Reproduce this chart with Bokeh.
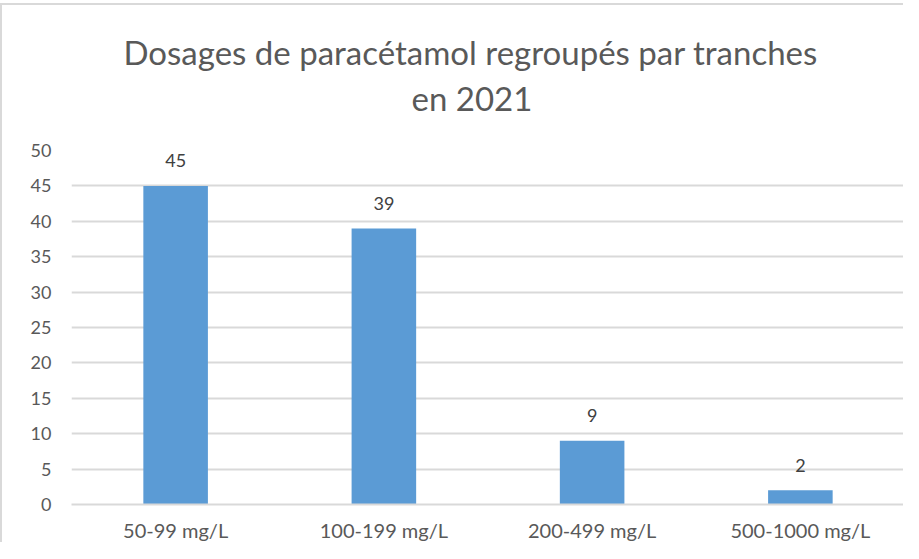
from bokeh.plotting import figure
from bokeh.models import ColumnDataSource, Title, FixedTicker, Range1d
from bokeh.core.properties import value
from bokeh.embed import file_html
from bokeh.resources import INLINE

categories = ["50-99 mg/L", "100-199 mg/L", "200-499 mg/L", "500-1000 mg/L"]
counts = [45, 39, 9, 2]
y_ticks = [0, 5, 10, 15, 20, 25, 30, 35, 40, 45, 50]
title_line1 = "Dosages de paracétamol regroupés par tranches"
title_line2 = "en 2021"

FONT = "Lato"
GREY = "#595959"
GRID = "#d9d9d9"

src = ColumnDataSource(dict(cat=categories, val=counts, lbl=[str(v) for v in counts]))

p = figure(x_range=categories, y_range=Range1d(0, 50), width=901, height=537,
           output_backend="svg", toolbar_location=None,
           min_border_left=69, min_border_right=1, min_border_bottom=34, min_border_top=145)
p.styles = {"border-left": "2px solid #d9d9d9", "border-top": "2px solid #d9d9d9",
            "margin-top": "3px", "box-sizing": "content-box"}

p.add_layout(Title(text=title_line2, align="left", offset=340, text_font=FONT, text_font_size="33px",
                   text_color=GREY, text_font_style="normal", standoff=66), "above")
p.add_layout(Title(text=title_line1, align="left", offset=52, text_font=FONT, text_font_size="33px",
                   text_color=GREY, text_font_style="normal", standoff=-58), "above")

p.vbar(x="cat", top="val", width=0.31, source=src, fill_color="#5B9BD5", line_color=None)
p.text(x="cat", y="val", text="lbl", source=src, text_align="center", text_baseline="alphabetic",
       y_offset=-25, text_font=value(FONT), text_font_size="18px", text_color="#404040")

p.x_range.range_padding = 0
p.outline_line_color = None
p.background_fill_color = "white"
p.border_fill_color = "white"

p.xgrid.grid_line_color = None
p.ygrid.grid_line_color = GRID
p.ygrid.grid_line_width = 2
p.yaxis.ticker = FixedTicker(ticks=y_ticks)

p.yaxis.axis_line_color = None
p.yaxis.major_tick_line_color = None
p.yaxis.minor_tick_line_color = None
p.yaxis.major_tick_out = 0
p.yaxis.major_label_standoff = 20
p.yaxis.major_label_text_font = FONT
p.yaxis.major_label_text_font_size = "18px"
p.yaxis.major_label_text_color = GREY

p.xaxis.axis_line_color = GRID
p.xaxis.axis_line_width = 2
p.xaxis.major_tick_line_color = None
p.xaxis.major_tick_out = 0
p.xaxis.major_label_standoff = 13
p.xaxis.major_label_text_font = FONT
p.xaxis.major_label_text_font_size = "20px"
p.xaxis.major_label_text_color = GREY

open("out.html", "w").write(file_html(p, INLINE))
